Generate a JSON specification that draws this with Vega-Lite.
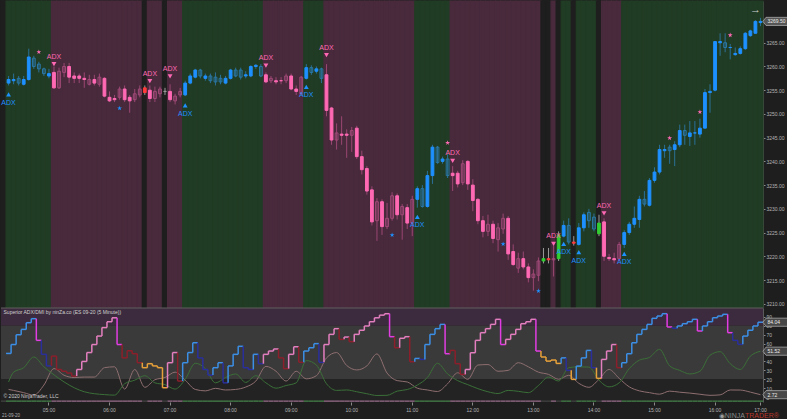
{
"$schema":"https://vega.github.io/schema/vega-lite/v6.json",
"background":"#1e1e1e",
"padding":0,
"spacing":0,
"bounds":"flush",
"config":{"view":{"stroke":null},"font":"Liberation Sans","axis":{"labelColor":"#b4b4b4","labelFontSize":5,"tickColor":"#8a8a8a","domainColor":"#5a5a5a","tickSize":2,"labelPadding":1,"grid":false,"labelOverlap":false},"axisY":{"labelOverlap":false},"axisQuantitative":{"labelOverlap":false}},
"datasets":{
"bars":[
{"i":0,"r":"k"},
{"i":1,"r":"g","s":"up","o":3256.5,"h":3258,"l":3256,"c":3257.25,"a":49,"g":"B"},
{"i":2,"r":"g","s":"up","o":3257,"h":3258.5,"l":3256.25,"c":3257.25,"a":59,"g":"B"},
{"i":3,"r":"g","s":"upw","o":3256.5,"h":3258,"l":3256,"c":3257.5,"a":70,"g":"B"},
{"i":4,"r":"g","s":"up","o":3256.25,"h":3258,"l":3256,"c":3257.25,"a":76,"g":"B"},
{"i":5,"r":"g","s":"up","o":3257.25,"h":3263.75,"l":3257,"c":3262,"a":83.5,"g":"B"},
{"i":6,"r":"g","s":"upw","o":3260,"h":3262.25,"l":3259.5,"c":3261.75,"a":88,"g":"B"},
{"i":7,"r":"g","s":"upw","o":3259.5,"h":3261,"l":3258.75,"c":3260.5,"a":63.7,"g":"M"},
{"i":8,"r":"g","s":"upw","o":3258.5,"h":3259.75,"l":3258,"c":3259.5,"a":48,"g":"N"},
{"i":9,"r":"g","s":"up","o":3258,"h":3259.5,"l":3257.5,"c":3258.5,"a":35,"g":"N"},
{"i":10,"r":"p","s":"dn","o":3258.75,"h":3260,"l":3255.25,"c":3255.5,"a":46,"g":"R"},
{"i":11,"r":"p","s":"dnw","o":3259,"h":3259.75,"l":3255.25,"c":3255.5,"a":31,"g":"R"},
{"i":12,"r":"p","s":"dnw","o":3260,"h":3260.75,"l":3257.75,"c":3258.75,"a":29,"g":"R"},
{"i":13,"r":"p","s":"dn","o":3260,"h":3260.75,"l":3256.5,"c":3257.75,"a":27,"g":"R"},
{"i":14,"r":"p","s":"dn","o":3258,"h":3258.75,"l":3256.5,"c":3257.5,"a":23.6,"g":"R"},
{"i":15,"r":"p","s":"dn","o":3258,"h":3258.5,"l":3256.5,"c":3257.5,"a":31,"g":"P"},
{"i":16,"r":"p","s":"dn","o":3257.5,"h":3258.75,"l":3255.5,"c":3257.25,"a":40,"g":"P"},
{"i":17,"r":"p","s":"dnw","o":3257.25,"h":3258.25,"l":3256,"c":3256.25,"a":50,"g":"P"},
{"i":18,"r":"p","s":"dn","o":3257.25,"h":3258.25,"l":3256,"c":3256.5,"a":59,"g":"P"},
{"i":19,"r":"p","s":"dnw","o":3257.75,"h":3258.5,"l":3255.75,"c":3256.25,"a":68.5,"g":"P"},
{"i":20,"r":"p","s":"dn","o":3257.5,"h":3257.75,"l":3253.5,"c":3253.75,"a":78,"g":"P"},
{"i":21,"r":"p","s":"dn","o":3253.5,"h":3254.75,"l":3252.5,"c":3252.75,"a":84.6,"g":"P"},
{"i":22,"r":"p","s":"dn","o":3253.25,"h":3254,"l":3252.5,"c":3253,"a":89,"g":"P"},
{"i":23,"r":"p","s":"dnw","o":3255.25,"h":3255.75,"l":3253,"c":3253.5,"a":59,"g":"M"},
{"i":24,"r":"p","s":"dn","o":3255.25,"h":3256,"l":3252.5,"c":3253,"a":44,"g":"R"},
{"i":25,"r":"p","s":"dn","o":3253.5,"h":3254,"l":3250.25,"c":3252.75,"a":52,"g":"R"},
{"i":26,"r":"p","s":"dnw","o":3254.25,"h":3255.25,"l":3252.5,"c":3253,"a":48.7,"g":"R"},
{"i":27,"r":"p","s":"dnw","o":3255.25,"h":3256,"l":3253.5,"c":3254,"a":38.6,"g":"R"},
{"i":28,"r":"k","s":"red","o":3255.5,"h":3256,"l":3254,"c":3254.5,"a":33,"g":"O"},
{"i":29,"r":"p","s":"dn","o":3255,"h":3256,"l":3252.5,"c":3253.25,"a":37.5,"g":"O"},
{"i":30,"r":"p","s":"dnw","o":3254.75,"h":3255.75,"l":3252.5,"c":3253.25,"a":35,"g":"O"},
{"i":31,"r":"p","s":"dnw","o":3255.25,"h":3255.75,"l":3253.5,"c":3254.25,"a":33,"g":"O"},
{"i":32,"r":"k","s":"neu","o":3254.75,"h":3255.5,"l":3254,"c":3254.75,"a":10.5,"g":"O"},
{"i":33,"r":"p","s":"dn","o":3254.75,"h":3256.25,"l":3252.5,"c":3253,"a":38.6,"g":"P"},
{"i":34,"r":"p","s":"dnw","o":3253.75,"h":3254.25,"l":3252,"c":3252.75,"a":50,"g":"P"},
{"i":35,"r":"p","s":"dnw","o":3254.75,"h":3255.5,"l":3253.5,"c":3254,"a":18,"g":"R"},
{"i":36,"r":"g","s":"up","o":3254,"h":3257,"l":3253.75,"c":3256.5,"a":38.6,"g":"B"},
{"i":37,"r":"g","s":"up","o":3256.5,"h":3258.5,"l":3256.25,"c":3258,"a":50,"g":"B"},
{"i":38,"r":"g","s":"up","o":3257.75,"h":3259.5,"l":3257.5,"c":3259.25,"a":61,"g":"B"},
{"i":39,"r":"g","s":"upw","o":3258,"h":3259.5,"l":3257.5,"c":3259.25,"a":44,"g":"N"},
{"i":40,"r":"g","s":"up","o":3257.5,"h":3258.5,"l":3257,"c":3258,"a":31,"g":"N"},
{"i":41,"r":"g","s":"upw","o":3257,"h":3258.5,"l":3256.5,"c":3258,"a":24.7,"g":"N"},
{"i":42,"r":"g","s":"upw","o":3256.75,"h":3258.75,"l":3256,"c":3257.75,"a":33,"g":"B"},
{"i":43,"r":"g","s":"upw","o":3256.75,"h":3258.25,"l":3256.25,"c":3257.5,"a":38.6,"g":"B"},
{"i":44,"r":"g","s":"up","o":3256.5,"h":3258,"l":3256.25,"c":3257.5,"a":16,"g":"N"},
{"i":45,"r":"g","s":"up","o":3257.5,"h":3259.5,"l":3257.25,"c":3259.25,"a":35,"g":"B"},
{"i":46,"r":"g","s":"upw","o":3258,"h":3259.75,"l":3257.75,"c":3259.25,"a":48,"g":"B"},
{"i":47,"r":"g","s":"upw","o":3257.75,"h":3259.75,"l":3257.25,"c":3259.25,"a":57,"g":"B"},
{"i":48,"r":"g","s":"up","o":3258,"h":3259,"l":3257.5,"c":3258.25,"a":33,"g":"N"},
{"i":49,"r":"g","s":"up","o":3258,"h":3260.25,"l":3257.75,"c":3260,"a":31,"g":"N"},
{"i":50,"r":"g","s":"up","o":3260,"h":3260.5,"l":3259.5,"c":3260.25,"a":48,"g":"B"},
{"i":51,"r":"g","s":"upw","o":3258,"h":3260.5,"l":3257.75,"c":3260,"a":37.5,"g":"N"},
{"i":52,"r":"p","s":"dn","o":3258.25,"h":3258.75,"l":3256.5,"c":3256.75,"a":48,"g":"P"},
{"i":53,"r":"p","s":"dnw","o":3257.5,"h":3258,"l":3256.5,"c":3257,"a":51.7,"g":"P"},
{"i":54,"r":"p","s":"dn","o":3257,"h":3257.75,"l":3256.25,"c":3256.75,"a":54,"g":"P"},
{"i":55,"r":"p","s":"dn","o":3257,"h":3257.75,"l":3256.25,"c":3257,"a":44,"g":"R"},
{"i":56,"r":"p","s":"dnw","o":3258,"h":3258.5,"l":3256.5,"c":3257,"a":32,"g":"R"},
{"i":57,"r":"p","s":"dn","o":3258,"h":3258.5,"l":3255,"c":3255.25,"a":48,"g":"P"},
{"i":58,"r":"p","s":"dn","o":3255.25,"h":3256,"l":3254,"c":3254.75,"a":56.5,"g":"P"},
{"i":59,"r":"p","s":"dnw","o":3257.75,"h":3258,"l":3254,"c":3254.25,"a":39,"g":"R"},
{"i":60,"r":"g","s":"up","o":3257.5,"h":3260.5,"l":3257.25,"c":3259.75,"a":51.7,"g":"B"},
{"i":61,"r":"g","s":"upw","o":3258.75,"h":3260.25,"l":3258.25,"c":3259.75,"a":55.4,"g":"B"},
{"i":62,"r":"g","s":"up","o":3259,"h":3260,"l":3258.5,"c":3259.5,"a":60,"g":"B"},
{"i":63,"r":"g","s":"upw","o":3257.5,"h":3259.75,"l":3256.5,"c":3259.5,"a":39,"g":"N"},
{"i":64,"r":"p","s":"dn","o":3258.25,"h":3260.5,"l":3249.5,"c":3250.75,"a":59,"g":"P"},
{"i":65,"r":"p","s":"dn","o":3251.25,"h":3251.5,"l":3243.5,"c":3244.5,"a":70.4,"g":"P"},
{"i":66,"r":"p","s":"dnw","o":3246,"h":3248,"l":3242.5,"c":3244.5,"a":76.8,"g":"P"},
{"i":67,"r":"p","s":"dn","o":3245.75,"h":3249.5,"l":3243.5,"c":3245.5,"a":64.8,"g":"R"},
{"i":68,"r":"p","s":"dn","o":3245.75,"h":3246.75,"l":3240.75,"c":3245.5,"a":67.4,"g":"P"},
{"i":69,"r":"p","s":"dnw","o":3246.5,"h":3247.25,"l":3242,"c":3245.5,"a":62.2,"g":"R"},
{"i":70,"r":"p","s":"dn","o":3247,"h":3247.5,"l":3240.5,"c":3241,"a":70.4,"g":"P"},
{"i":71,"r":"p","s":"dn","o":3241,"h":3242.25,"l":3237.25,"c":3238.25,"a":75,"g":"P"},
{"i":72,"r":"p","s":"dn","o":3238.5,"h":3239,"l":3233,"c":3233.75,"a":79.8,"g":"P"},
{"i":73,"r":"p","s":"dn","o":3234,"h":3234.75,"l":3226.5,"c":3227.25,"a":84.6,"g":"P"},
{"i":74,"r":"p","s":"dnw","o":3231.5,"h":3232.25,"l":3223.25,"c":3227.5,"a":89,"g":"P"},
{"i":75,"r":"p","s":"dn","o":3231.5,"h":3232,"l":3224.5,"c":3226.25,"a":92,"g":"P"},
{"i":76,"r":"p","s":"dnw","o":3228,"h":3231.25,"l":3225.75,"c":3226.25,"a":93.6,"g":"P"},
{"i":77,"r":"p","s":"dnw","o":3232.75,"h":3233.5,"l":3227.5,"c":3228,"a":67.8,"g":"M"},
{"i":78,"r":"p","s":"dn","o":3232.75,"h":3233.25,"l":3227.75,"c":3228.75,"a":55.4,"g":"R"},
{"i":79,"r":"p","s":"dnw","o":3230.5,"h":3231,"l":3223.5,"c":3228.75,"a":66,"g":"P"},
{"i":80,"r":"p","s":"dn","o":3230.25,"h":3231,"l":3225.75,"c":3227,"a":67.8,"g":"P"},
{"i":81,"r":"p","s":"dnw","o":3232,"h":3232.75,"l":3224.25,"c":3227,"a":39.7,"g":"R"},
{"i":82,"r":"g","s":"up","o":3232,"h":3234.75,"l":3230.25,"c":3234.25,"a":43.4,"g":"B"},
{"i":83,"r":"g","s":"upw","o":3230.5,"h":3235,"l":3230.25,"c":3234.25,"a":42.3,"g":"N"},
{"i":84,"r":"g","s":"up","o":3230.5,"h":3238,"l":3230.25,"c":3237,"a":59,"g":"B"},
{"i":85,"r":"g","s":"up","o":3237,"h":3243.5,"l":3235.25,"c":3243,"a":70.4,"g":"B"},
{"i":86,"r":"g","s":"upw","o":3239.75,"h":3243.25,"l":3239.5,"c":3243,"a":76.8,"g":"B"},
{"i":87,"r":"g","s":"up","o":3240,"h":3241,"l":3239.5,"c":3240.5,"a":81.6,"g":"B"},
{"i":88,"r":"g","s":"upw","o":3237,"h":3241.5,"l":3236.5,"c":3240.5,"a":48.7,"g":"M"},
{"i":89,"r":"p","s":"dn","o":3237.5,"h":3239,"l":3233.75,"c":3237,"a":52.4,"g":"R"},
{"i":90,"r":"p","s":"dn","o":3237.5,"h":3238,"l":3234.5,"c":3235.25,"a":37.5,"g":"R"},
{"i":91,"r":"p","s":"dnw","o":3239.5,"h":3240.25,"l":3235,"c":3235.5,"a":25.5,"g":"R"},
{"i":92,"r":"p","s":"dn","o":3240,"h":3240.25,"l":3234,"c":3235.25,"a":31,"g":"P"},
{"i":93,"r":"p","s":"dn","o":3235,"h":3236.25,"l":3229.5,"c":3231.75,"a":49.8,"g":"P"},
{"i":94,"r":"p","s":"dn","o":3232,"h":3232.25,"l":3226.75,"c":3227.5,"a":63.7,"g":"P"},
{"i":95,"r":"p","s":"dn","o":3227.5,"h":3228.5,"l":3224,"c":3225.25,"a":72.3,"g":"P"},
{"i":96,"r":"p","s":"dnw","o":3226.75,"h":3228.75,"l":3224.25,"c":3225.25,"a":76.8,"g":"P"},
{"i":97,"r":"p","s":"dn","o":3226.75,"h":3227.5,"l":3222.75,"c":3223.75,"a":81.6,"g":"P"},
{"i":98,"r":"p","s":"dnw","o":3226,"h":3227,"l":3221,"c":3223.5,"a":87.3,"g":"P"},
{"i":99,"r":"p","s":"dnw","o":3228,"h":3229,"l":3224.75,"c":3225.75,"a":59,"g":"M"},
{"i":100,"r":"p","s":"dn","o":3228,"h":3228.5,"l":3219.25,"c":3220.5,"a":64.8,"g":"P"},
{"i":101,"r":"p","s":"dn","o":3221,"h":3222.5,"l":3218,"c":3218.25,"a":70.4,"g":"P"},
{"i":102,"r":"p","s":"dnw","o":3219.5,"h":3220.75,"l":3216.5,"c":3217.5,"a":76,"g":"P"},
{"i":103,"r":"p","s":"dn","o":3219.5,"h":3221,"l":3217.25,"c":3217.75,"a":82.4,"g":"P"},
{"i":104,"r":"p","s":"dn","o":3217.75,"h":3218.5,"l":3214.5,"c":3215.5,"a":84.6,"g":"P"},
{"i":105,"r":"p","s":"dnw","o":3216.25,"h":3217.25,"l":3212.75,"c":3215.5,"a":87.3,"g":"P"},
{"i":106,"r":"p","s":"dnw","o":3219,"h":3219.75,"l":3214.75,"c":3216,"a":51.7,"g":"M"},
{"i":107,"r":"k","s":"grn","o":3219,"h":3221.75,"l":3218.5,"c":3219.5,"a":45,"g":"O"},
{"i":108,"r":"k","s":"red","o":3219.5,"h":3221.75,"l":3218.5,"c":3219.25,"a":40.4,"g":"O"},
{"i":109,"r":"p","s":"dnw","o":3219.5,"h":3222.25,"l":3215.75,"c":3219.25,"a":41.6,"g":"O"},
{"i":110,"r":"k","s":"grn","o":3219.5,"h":3225.25,"l":3219,"c":3224.5,"a":37.8,"g":"O"},
{"i":111,"r":"g","s":"up","o":3224.25,"h":3227.5,"l":3224,"c":3226.5,"a":44,"g":"B"},
{"i":112,"r":"g","s":"upw","o":3223,"h":3228,"l":3222.5,"c":3226.5,"a":30,"g":"N"},
{"i":113,"r":"k","s":"red","o":3223,"h":3224.25,"l":3222.25,"c":3222.75,"a":19.9,"g":"O"},
{"i":114,"r":"g","s":"up","o":3222.5,"h":3227,"l":3222.25,"c":3226,"a":34.8,"g":"B"},
{"i":115,"r":"g","s":"up","o":3226,"h":3229.25,"l":3225.25,"c":3228.75,"a":44,"g":"B"},
{"i":116,"r":"g","s":"upw","o":3227.5,"h":3230,"l":3226,"c":3229.25,"a":52.4,"g":"B"},
{"i":117,"r":"g","s":"upw","o":3225.75,"h":3229,"l":3225.25,"c":3228.25,"a":33,"g":"N"},
{"i":118,"r":"k","s":"grn","o":3224.75,"h":3228.75,"l":3224.25,"c":3227,"a":21,"g":"O"},
{"i":119,"r":"p","s":"dn","o":3227.25,"h":3228,"l":3219,"c":3220,"a":42.3,"g":"P"},
{"i":120,"r":"p","s":"dn","o":3219.75,"h":3220.5,"l":3219,"c":3219.5,"a":51.7,"g":"P"},
{"i":121,"r":"p","s":"dn","o":3219.5,"h":3220.75,"l":3218.5,"c":3219.25,"a":59,"g":"P"},
{"i":122,"r":"p","s":"dnw","o":3222.5,"h":3223,"l":3219,"c":3219.5,"a":33,"g":"R"},
{"i":123,"r":"g","s":"up","o":3222.5,"h":3225.5,"l":3221.75,"c":3225,"a":38.6,"g":"B"},
{"i":124,"r":"g","s":"up","o":3225,"h":3227.25,"l":3224.5,"c":3226.75,"a":48.7,"g":"B"},
{"i":125,"r":"g","s":"up","o":3226.75,"h":3230.5,"l":3226,"c":3228,"a":61,"g":"B"},
{"i":126,"r":"g","s":"up","o":3227.75,"h":3232.75,"l":3226,"c":3232,"a":70.4,"g":"B"},
{"i":127,"r":"g","s":"upw","o":3231,"h":3233.75,"l":3230.5,"c":3232,"a":76,"g":"B"},
{"i":128,"r":"g","s":"up","o":3230.75,"h":3236.5,"l":3230.5,"c":3236,"a":81.6,"g":"B"},
{"i":129,"r":"g","s":"up","o":3236,"h":3238.75,"l":3235.5,"c":3237.75,"a":88.4,"g":"B"},
{"i":130,"r":"g","s":"up","o":3237.75,"h":3243.5,"l":3237.25,"c":3242.5,"a":91,"g":"B"},
{"i":131,"r":"g","s":"up","o":3242.25,"h":3243.5,"l":3240.75,"c":3242.5,"a":93.6,"g":"B"},
{"i":132,"r":"g","s":"upw","o":3242.25,"h":3243.5,"l":3239.5,"c":3243,"a":78.7,"g":"M"},
{"i":133,"r":"g","s":"up","o":3242.5,"h":3244.25,"l":3239,"c":3243.5,"a":77.2,"g":"N"},
{"i":134,"r":"g","s":"up","o":3243.5,"h":3247.75,"l":3243,"c":3246.5,"a":79.8,"g":"B"},
{"i":135,"r":"g","s":"upw","o":3245.5,"h":3247.75,"l":3243.5,"c":3246.5,"a":82.4,"g":"B"},
{"i":136,"r":"g","s":"up","o":3245.25,"h":3248.5,"l":3243.25,"c":3246,"a":84.6,"g":"B"},
{"i":137,"r":"g","s":"up","o":3246,"h":3248.5,"l":3243.5,"c":3246,"a":87.3,"g":"B"},
{"i":138,"r":"g","s":"up","o":3245.75,"h":3249,"l":3245,"c":3247,"a":74.2,"g":"M"},
{"i":139,"r":"g","s":"up","o":3247,"h":3255.25,"l":3247,"c":3254.5,"a":79.8,"g":"B"},
{"i":140,"r":"g","s":"up","o":3254.5,"h":3256.25,"l":3250.25,"c":3254.75,"a":84.6,"g":"B"},
{"i":141,"r":"g","s":"up","o":3255,"h":3265.25,"l":3254.75,"c":3265.25,"a":89.1,"g":"B"},
{"i":142,"r":"g","s":"up","o":3265,"h":3267,"l":3262.25,"c":3265.25,"a":91,"g":"B"},
{"i":143,"r":"g","s":"upw","o":3264,"h":3267,"l":3263,"c":3265,"a":92.9,"g":"B"},
{"i":144,"r":"g","s":"up","o":3264,"h":3264.75,"l":3261.5,"c":3264,"a":72.3,"g":"M"},
{"i":145,"r":"g","s":"up","o":3262.5,"h":3264,"l":3262.25,"c":3262.75,"a":63.7,"g":"N"},
{"i":146,"r":"g","s":"up","o":3262.75,"h":3264.25,"l":3262.5,"c":3263.75,"a":59.2,"g":"N"},
{"i":147,"r":"g","s":"up","o":3263.75,"h":3267.25,"l":3263.5,"c":3267,"a":68.5,"g":"B"},
{"i":148,"r":"g","s":"up","o":3266.5,"h":3267.75,"l":3266.25,"c":3267.5,"a":75,"g":"B"},
{"i":149,"r":"g","s":"up","o":3267,"h":3269.75,"l":3267,"c":3269.5,"a":79.8,"g":"B"},
{"i":150,"r":"g","s":"up","o":3269.25,"h":3270.25,"l":3268.5,"c":3269.5,"a":84.04,"g":"B"}
],
"di":[{"i":1,"p":17,"m":8.6},{"i":2,"p":28,"m":7.5},{"i":4,"p":33,"m":5},{"i":6,"p":45,"m":2.2},{"i":8,"p":34,"m":13.5},{"i":10,"p":25,"m":32},{"i":12,"p":17,"m":24.5},{"i":14,"p":10.5,"m":22},{"i":16,"p":6,"m":22.5},{"i":18,"p":3.8,"m":22.5},{"i":20,"p":2.8,"m":33},{"i":22,"p":2.2,"m":34},{"i":24,"p":15,"m":9},{"i":26,"p":19,"m":31},{"i":28,"p":24,"m":11},{"i":30,"p":16,"m":19.5},{"i":32,"p":14,"m":22},{"i":34,"p":9,"m":28},{"i":36,"p":20,"m":19},{"i":38,"p":38,"m":8.6},{"i":40,"p":32,"m":7},{"i":42,"p":16,"m":9.8},{"i":44,"p":22,"m":8},{"i":46,"p":26,"m":8.6},{"i":48,"p":16.5,"m":11.3},{"i":50,"p":24,"m":18},{"i":52,"p":16,"m":34.5},{"i":54,"p":10,"m":29},{"i":56,"p":13,"m":18},{"i":58,"p":16,"m":29},{"i":60,"p":41,"m":20.5},{"i":62,"p":36,"m":24},{"i":64,"p":15,"m":44},{"i":66,"p":7.5,"m":50},{"i":68,"p":8,"m":35.5},{"i":70,"p":6,"m":30.5},{"i":72,"p":3.8,"m":35},{"i":74,"p":1.8,"m":48.5},{"i":76,"p":2,"m":27},{"i":78,"p":6.7,"m":18.5},{"i":80,"p":8.5,"m":17},{"i":82,"p":13.5,"m":10},{"i":84,"p":22,"m":8},{"i":86,"p":38,"m":6.3},{"i":88,"p":26,"m":15},{"i":90,"p":18.5,"m":27.3},{"i":92,"p":14,"m":20},{"i":94,"p":9.5,"m":36},{"i":96,"p":6,"m":36.5},{"i":98,"p":4,"m":29},{"i":100,"p":7.5,"m":30},{"i":102,"p":6.5,"m":38.6},{"i":104,"p":5,"m":34},{"i":106,"p":13,"m":28},{"i":108,"p":22.5,"m":25.5},{"i":110,"p":18,"m":20},{"i":112,"p":33,"m":24.5},{"i":114,"p":34,"m":15.5},{"i":116,"p":33.7,"m":11},{"i":118,"p":19,"m":20},{"i":120,"p":11.5,"m":31},{"i":122,"p":16,"m":21},{"i":124,"p":32,"m":11.5},{"i":126,"p":41.5,"m":7},{"i":128,"p":44.5,"m":5},{"i":130,"p":53.6,"m":3.3},{"i":132,"p":35,"m":6.7},{"i":134,"p":30,"m":5.5},{"i":136,"p":26,"m":4.5},{"i":138,"p":29,"m":3.2},{"i":140,"p":47,"m":2},{"i":142,"p":51,"m":2.5},{"i":144,"p":37.5,"m":8},{"i":146,"p":31,"m":7.9},{"i":148,"p":46,"m":5.6},{"i":150,"p":51.52,"m":2.72}],
"sig":[{"i":10,"p":3260.5,"k":"dn"},{"i":29,"p":3256.9,"k":"dn"},{"i":33,"p":3257.9,"k":"dn"},{"i":52,"p":3260.2,"k":"dn"},{"i":64,"p":3262.4,"k":"dn"},{"i":89,"p":3240.1,"k":"dn"},{"i":109,"p":3222.6,"k":"dn"},{"i":119,"p":3229.05,"k":"dn"},
{"i":1,"p":3254.1,"k":"up"},{"i":36,"p":3251.8,"k":"up"},{"i":60,"p":3255.7,"k":"up"},{"i":82,"p":3228.3,"k":"up"},{"i":111,"p":3222.6,"k":"up"},{"i":114,"p":3220.9,"k":"up"},{"i":123,"p":3220.5,"k":"up"},
{"i":7,"p":3263.05,"k":"sp"},{"i":88,"p":3243.9,"k":"sp"},{"i":132,"p":3244.9,"k":"sp"},{"i":138,"p":3250.4,"k":"sp"},{"i":144,"p":3266.6,"k":"sp"},
{"i":23,"p":3251.2,"k":"sb"},{"i":77,"p":3224.5,"k":"sb"},{"i":99,"p":3222.6,"k":"sb"},{"i":106,"p":3212.7,"k":"sb"}],
"zones":[{"lo":80,"hi":100,"z":"a"},{"lo":20,"hi":80,"z":"b"},{"lo":-3.5,"hi":20,"z":"c"}]
},
"vconcat":[
{
"width":762,"height":307,
"data":{"name":"bars"},
"encoding":{
 "x":{"field":"i","type":"ordinal","scale":{"type":"band","paddingInner":0,"paddingOuter":0},"axis":null}
},
"layer":[
{"mark":{"type":"rect","strokeWidth":1.2,"opacity":1},
 "encoding":{
  "color":{"field":"r","type":"nominal","scale":{"domain":["g","p","k"],"range":["#213c24","#482a3c","#1e1e1e"]},"legend":null},
  "stroke":{"field":"r","type":"nominal","scale":{"domain":["g","p","k"],"range":["#213c24","#482a3c","#1e1e1e"]},"legend":null}}},
{"transform":[{"filter":"isValid(datum.h)"}],
 "mark":{"type":"rule","strokeWidth":1},
 "encoding":{
  "y":{"field":"l","type":"quantitative","scale":{"domain":[3209.1,3273.8],"nice":false,"zero":false},"axis":{"orient":"right","values":[3210,3215,3220,3225,3230,3235,3240,3245,3250,3255,3260,3265],"format":".2f","title":null,"labelOverlap":false,"labelSeparation":0}},
  "y2":{"field":"h"},
  "color":{"field":"s","type":"nominal","scale":{"domain":["up","upw","dn","dnw","red","neu","grn"],"range":["#2a6f96","#2a6f96","#9a4672","#9a4672","#9a9a9a","#9a9a9a","#9a9a9a"]},"legend":null}}},
{"transform":[{"filter":"isValid(datum.o)"}],
 "mark":{"type":"bar","width":{"band":0.55},"strokeWidth":1},
 "encoding":{
  "y":{"field":"o","type":"quantitative","axis":{"orient":"right","values":[3210,3215,3220,3225,3230,3235,3240,3245,3250,3255,3260,3265],"format":".2f","title":null,"labelOverlap":false,"labelSeparation":0}},
  "y2":{"field":"c"},
  "fill":{"field":"s","type":"nominal","scale":{"domain":["up","upw","dn","dnw","red","neu","grn"],"range":["#1e90ff","rgba(0,0,0,0)","#ff69b4","rgba(0,0,0,0)","#ff3b3b","#9a9a9a","#32cd32"]},"legend":null},
  "stroke":{"field":"s","type":"nominal","scale":{"domain":["up","upw","dn","dnw","red","neu","grn"],"range":["#1e90ff","#2a78a8","#ff69b4","#a04a78","#ff3b3b","#9a9a9a","#32cd32"]},"legend":null}}},
{"data":{"name":"sig"},
 "transform":[{"filter":"datum.k=='dn' || datum.k=='up'"}],
 "mark":{"type":"point","filled":true,"size":24,"opacity":1},
 "encoding":{
  "y":{"field":"p","type":"quantitative","axis":{"orient":"right","values":[3210,3215,3220,3225,3230,3235,3240,3245,3250,3255,3260,3265],"format":".2f","title":null,"labelOverlap":false,"labelSeparation":0}},
  "shape":{"field":"k","type":"nominal","scale":{"domain":["dn","up"],"range":["triangle-down","triangle-up"]},"legend":null},
  "color":{"field":"k","type":"nominal","scale":{"domain":["dn","up"],"range":["#ff69b4","#1e90ff"]},"legend":null}}},
{"data":{"name":"sig"},
 "transform":[{"filter":"datum.k=='dn'"}],
 "mark":{"type":"text","text":"ADX","dy":-7.5,"fontSize":7,"color":"#ff69b4","baseline":"middle"},
 "encoding":{
  "y":{"field":"p","type":"quantitative","axis":{"orient":"right","values":[3210,3215,3220,3225,3230,3235,3240,3245,3250,3255,3260,3265],"format":".2f","title":null,"labelOverlap":false,"labelSeparation":0}}}},
{"data":{"name":"sig"},
 "transform":[{"filter":"datum.k=='up'"}],
 "mark":{"type":"text","text":"ADX","dy":8.5,"fontSize":7,"color":"#1e90ff","baseline":"middle"},
 "encoding":{
  "y":{"field":"p","type":"quantitative","axis":{"orient":"right","values":[3210,3215,3220,3225,3230,3235,3240,3245,3250,3255,3260,3265],"format":".2f","title":null,"labelOverlap":false,"labelSeparation":0}}}},
{"data":{"name":"sig"},
 "transform":[{"filter":"datum.k=='sp' || datum.k=='sb'"}],
 "mark":{"type":"point","filled":true,"size":26,"opacity":1,"shape":"M0,-1L0.22,-0.31L0.95,-0.31L0.36,0.12L0.59,0.81L0,0.38L-0.59,0.81L-0.36,0.12L-0.95,-0.31L-0.22,-0.31Z"},
 "encoding":{
  "y":{"field":"p","type":"quantitative","axis":{"orient":"right","values":[3210,3215,3220,3225,3230,3235,3240,3245,3250,3255,3260,3265],"format":".2f","title":null,"labelOverlap":false,"labelSeparation":0}},
  "color":{"field":"k","type":"nominal","scale":{"domain":["sp","sb"],"range":["#ff69b4","#1e90ff"]},"legend":null}}},
{"transform":[{"filter":"datum.i==150"}],
 "mark":{"type":"point","filled":true,"opacity":1,"size":605,"fill":"#555555","stroke":"#a8a8a8","strokeWidth":0.8,"shape":"M0.2,0L0.45,-0.33L2.2,-0.33L2.2,0.33L0.45,0.33Z"},
 "encoding":{
  "y":{"field":"c","type":"quantitative","axis":{"orient":"right","values":[3210,3215,3220,3225,3230,3235,3240,3245,3250,3255,3260,3265],"format":".2f","title":null,"labelOverlap":false,"labelSeparation":0}}}},
{"transform":[{"filter":"datum.i==150"}],
 "mark":{"type":"text","align":"left","baseline":"middle","dx":7,"fontSize":5,"color":"#ececec"},
 "encoding":{
  "y":{"field":"c","type":"quantitative","axis":{"orient":"right","values":[3210,3215,3220,3225,3230,3235,3240,3245,3250,3255,3260,3265],"format":".2f","title":null,"labelOverlap":false,"labelSeparation":0}},
  "text":{"field":"c","type":"quantitative","format":".2f"}}},
{"data":{"values":[{"t":"→","i":149,"v":3271.9}]},
 "mark":{"type":"text","fontSize":11,"color":"#d0d0d0","baseline":"middle"},
 "encoding":{"y":{"field":"v","type":"quantitative","axis":{"orient":"right","values":[3210,3215,3220,3225,3230,3235,3240,3245,3250,3255,3260,3265],"format":".2f","title":null,"labelOverlap":false,"labelSeparation":0}},"text":{"field":"t"}}}
],
"resolve":{"scale":{"color":"independent","fill":"independent","stroke":"independent","shape":"independent"}}
},
{
"width":762,"height":94,
"data":{"name":"bars"},
"layer":[
{"data":{"name":"zones"},
 "mark":{"type":"rect"},
 "encoding":{
  "y":{"field":"lo","type":"quantitative","scale":{"domain":[-5.5,100],"nice":false,"zero":false},"axis":{"orient":"right","values":[0,10,20,30,40,50,60,70,80,90],"format":"d","title":null,"labelOverlap":false,"labelSeparation":0}},
  "y2":{"field":"hi"},
  "color":{"field":"z","type":"nominal","scale":{"domain":["a","b","c"],"range":["#3c2b3e","#3a3a3a","#232323"]},"legend":null}}},
{"mark":{"type":"rect","strokeWidth":1,"opacity":1},
 "encoding":{
  "x":{"field":"i","type":"ordinal","scale":{"type":"band","paddingInner":0,"paddingOuter":0},"axis":{"orient":"bottom","values":[9,21,33,45,57,69,81,93,105,117,129,141,150],"labelExpr":"datum.value == 150 ? '17:00' : (floor((datum.value+51)/12) < 10 ? '0' : '') + floor((datum.value+51)/12) + ':00'","labelAngle":0,"tickSize":3,"labelPadding":2,"domain":false,"title":null}},
  "y":{"datum":-5.5,"type":"quantitative","axis":{"orient":"right","values":[0,10,20,30,40,50,60,70,80,90],"format":"d","title":null,"labelOverlap":false,"labelSeparation":0}},
  "y2":{"datum":-3.6},
  "color":{"field":"r","type":"nominal","scale":{"domain":["g","p","k"],"range":["#3d6b40","#7a5a70","#3a3a3a"]},"legend":null}}},
{"data":{"values":[{"v":100}]},
 "mark":{"type":"rule","color":"#5e5e5e","strokeWidth":1},
 "encoding":{"y":{"field":"v","type":"quantitative","axis":{"orient":"right","values":[0,10,20,30,40,50,60,70,80,90],"format":"d","title":null,"labelOverlap":false,"labelSeparation":0}}}},
{"data":{"name":"di"},
 "mark":{"type":"line","color":"#8e6e70","strokeWidth":1,"interpolate":"monotone"},
 "encoding":{
  "x":{"field":"i","type":"ordinal","scale":{"type":"band","paddingInner":0,"paddingOuter":0},"axis":{"orient":"bottom","values":[9,21,33,45,57,69,81,93,105,117,129,141,150],"labelExpr":"datum.value == 150 ? '17:00' : (floor((datum.value+51)/12) < 10 ? '0' : '') + floor((datum.value+51)/12) + ':00'","labelAngle":0,"tickSize":3,"labelPadding":2,"domain":false,"title":null}},
  "y":{"field":"m","type":"quantitative","axis":{"orient":"right","values":[0,10,20,30,40,50,60,70,80,90],"format":"d","title":null,"labelOverlap":false,"labelSeparation":0}}}},
{"data":{"name":"di"},
 "mark":{"type":"line","color":"#3a6f38","strokeWidth":1,"interpolate":"monotone"},
 "encoding":{
  "x":{"field":"i","type":"ordinal","scale":{"type":"band","paddingInner":0,"paddingOuter":0},"axis":{"orient":"bottom","values":[9,21,33,45,57,69,81,93,105,117,129,141,150],"labelExpr":"datum.value == 150 ? '17:00' : (floor((datum.value+51)/12) < 10 ? '0' : '') + floor((datum.value+51)/12) + ':00'","labelAngle":0,"tickSize":3,"labelPadding":2,"domain":false,"title":null}},
  "y":{"field":"p","type":"quantitative","axis":{"orient":"right","values":[0,10,20,30,40,50,60,70,80,90],"format":"d","title":null,"labelOverlap":false,"labelSeparation":0}}}},
{"transform":[{"filter":"isValid(datum.a)"}],
 "mark":{"type":"rule","strokeWidth":1.5},
 "encoding":{
  "x":{"field":"i","type":"ordinal","bandPosition":0,"scale":{"type":"band","paddingInner":0,"paddingOuter":0},"axis":{"orient":"bottom","values":[9,21,33,45,57,69,81,93,105,117,129,141,150],"labelExpr":"datum.value == 150 ? '17:00' : (floor((datum.value+51)/12) < 10 ? '0' : '') + floor((datum.value+51)/12) + ':00'","labelAngle":0,"tickSize":3,"labelPadding":2,"domain":false,"title":null}},
  "x2":{"field":"i","bandPosition":1},
  "y":{"field":"a","type":"quantitative","axis":{"orient":"right","values":[0,10,20,30,40,50,60,70,80,90],"format":"d","title":null,"labelOverlap":false,"labelSeparation":0}},
  "color":{"field":"g","type":"nominal","scale":{"domain":["B","N","M","P","R","O"],"range":["#3c8fe6","#2a2f9c","#e23de2","#e47fbf","#8b1f2b","#e8a13a"]},"legend":null}}},
{"transform":[{"filter":"isValid(datum.a)"},{"window":[{"op":"lag","field":"a","as":"pa"}],"sort":[{"field":"i","order":"ascending"}]},{"filter":"isValid(datum.pa)"}],
 "mark":{"type":"rule","strokeWidth":1.5},
 "encoding":{
  "x":{"field":"i","type":"ordinal","bandPosition":0,"scale":{"type":"band","paddingInner":0,"paddingOuter":0},"axis":{"orient":"bottom","values":[9,21,33,45,57,69,81,93,105,117,129,141,150],"labelExpr":"datum.value == 150 ? '17:00' : (floor((datum.value+51)/12) < 10 ? '0' : '') + floor((datum.value+51)/12) + ':00'","labelAngle":0,"tickSize":3,"labelPadding":2,"domain":false,"title":null}},
  "y":{"field":"a","type":"quantitative","axis":{"orient":"right","values":[0,10,20,30,40,50,60,70,80,90],"format":"d","title":null,"labelOverlap":false,"labelSeparation":0}},
  "y2":{"field":"pa"},
  "color":{"field":"g","type":"nominal","scale":{"domain":["B","N","M","P","R","O"],"range":["#3c8fe6","#2a2f9c","#e23de2","#e47fbf","#8b1f2b","#e8a13a"]},"legend":null}}},
{"transform":[{"filter":"datum.i==150"},{"fold":["a"],"as":["key","val"]}],
 "mark":{"type":"point","filled":true,"opacity":1,"size":605,"fill":"#474747","stroke":"#a8a8a8","strokeWidth":0.8,"shape":"M0.2,0L0.45,-0.33L2.2,-0.33L2.2,0.33L0.45,0.33Z"},
 "encoding":{"x":{"field":"i","type":"ordinal"},"y":{"field":"val","type":"quantitative","axis":{"orient":"right","values":[0,10,20,30,40,50,60,70,80,90],"format":"d","title":null,"labelOverlap":false,"labelSeparation":0}}}},
{"transform":[{"filter":"datum.i==150"},{"fold":["a"],"as":["key","val"]}],
 "mark":{"type":"text","align":"left","baseline":"middle","dx":7,"fontSize":5,"color":"#ececec"},
 "encoding":{"x":{"field":"i","type":"ordinal"},"y":{"field":"val","type":"quantitative","axis":{"orient":"right","values":[0,10,20,30,40,50,60,70,80,90],"format":"d","title":null,"labelOverlap":false,"labelSeparation":0}},"text":{"field":"val","type":"quantitative","format":".2f"}}},
{"data":{"name":"di"},"transform":[{"filter":"datum.i==150"},{"fold":["p","m"],"as":["key","val"]}],
 "mark":{"type":"point","filled":true,"opacity":1,"size":605,"fill":"#474747","stroke":"#a8a8a8","strokeWidth":0.8,"shape":"M0.2,0L0.45,-0.33L2.2,-0.33L2.2,0.33L0.45,0.33Z"},
 "encoding":{"x":{"field":"i","type":"ordinal"},"y":{"field":"val","type":"quantitative","axis":{"orient":"right","values":[0,10,20,30,40,50,60,70,80,90],"format":"d","title":null,"labelOverlap":false,"labelSeparation":0}}}},
{"data":{"name":"di"},"transform":[{"filter":"datum.i==150"},{"fold":["p","m"],"as":["key","val"]}],
 "mark":{"type":"text","align":"left","baseline":"middle","dx":7,"fontSize":5,"color":"#ececec"},
 "encoding":{"x":{"field":"i","type":"ordinal"},"y":{"field":"val","type":"quantitative","axis":{"orient":"right","values":[0,10,20,30,40,50,60,70,80,90],"format":"d","title":null,"labelOverlap":false,"labelSeparation":0}},"text":{"field":"val","type":"quantitative","format":".2f"}}},
{"data":{"values":[
  {"t":"Superior ADX/DMI by ninZa.co (ES 09-20 (5 Minute))","i":0,"v":95,"k":"a"},
  {"t":"© 2020 NinjaTrader, LLC","i":0,"v":1.2,"k":"a"}]},
 "mark":{"type":"text","align":"left","baseline":"middle","fontSize":5,"color":"#d0d0d0"},
 "encoding":{"x":{"field":"i","type":"ordinal"},"y":{"field":"v","type":"quantitative","axis":{"orient":"right","values":[0,10,20,30,40,50,60,70,80,90],"format":"d","title":null,"labelOverlap":false,"labelSeparation":0}},"text":{"field":"t"}}},
{"data":{"values":[{"t":"21-09-20","i":0,"v":-21.5}]},
 "mark":{"type":"text","align":"left","baseline":"middle","fontSize":4.5,"dx":-1.5,"color":"#b4b4b4"},
 "encoding":{"x":{"field":"i","type":"ordinal"},"y":{"field":"v","type":"quantitative","axis":{"orient":"right","values":[0,10,20,30,40,50,60,70,80,90],"format":"d","title":null,"labelOverlap":false,"labelSeparation":0}},"text":{"field":"t"}}},
{"data":{"values":[{"t":"◉","i":150,"v":-20.8}]},
 "mark":{"type":"text","align":"right","baseline":"middle","fontSize":7,"dx":-35,"color":"#9a9a9a"},
 "encoding":{"x":{"field":"i","type":"ordinal"},"y":{"field":"v","type":"quantitative","axis":{"orient":"right","values":[0,10,20,30,40,50,60,70,80,90],"format":"d","title":null,"labelOverlap":false,"labelSeparation":0}},"text":{"field":"t"}}},
{"data":{"values":[{"t":"NINJA","i":150,"v":-20.8}]},
 "mark":{"type":"text","align":"right","baseline":"middle","fontSize":7,"dx":-15.5,"color":"#8a8a8a"},
 "encoding":{"x":{"field":"i","type":"ordinal"},"y":{"field":"v","type":"quantitative","axis":{"orient":"right","values":[0,10,20,30,40,50,60,70,80,90],"format":"d","title":null,"labelOverlap":false,"labelSeparation":0}},"text":{"field":"t"}}},
{"data":{"values":[{"t":"TRADER®","i":150,"v":-20.8}]},
 "mark":{"type":"text","align":"left","baseline":"middle","fontSize":7,"dx":-15.5,"color":"#b8382c"},
 "encoding":{"x":{"field":"i","type":"ordinal"},"y":{"field":"v","type":"quantitative","axis":{"orient":"right","values":[0,10,20,30,40,50,60,70,80,90],"format":"d","title":null,"labelOverlap":false,"labelSeparation":0}},"text":{"field":"t"}}}
],
"resolve":{"scale":{"color":"independent","fill":"independent","stroke":"independent"}}
}
],
"resolve":{"scale":{"x":"shared","color":"independent","fill":"independent","stroke":"independent","shape":"independent"}}
}
